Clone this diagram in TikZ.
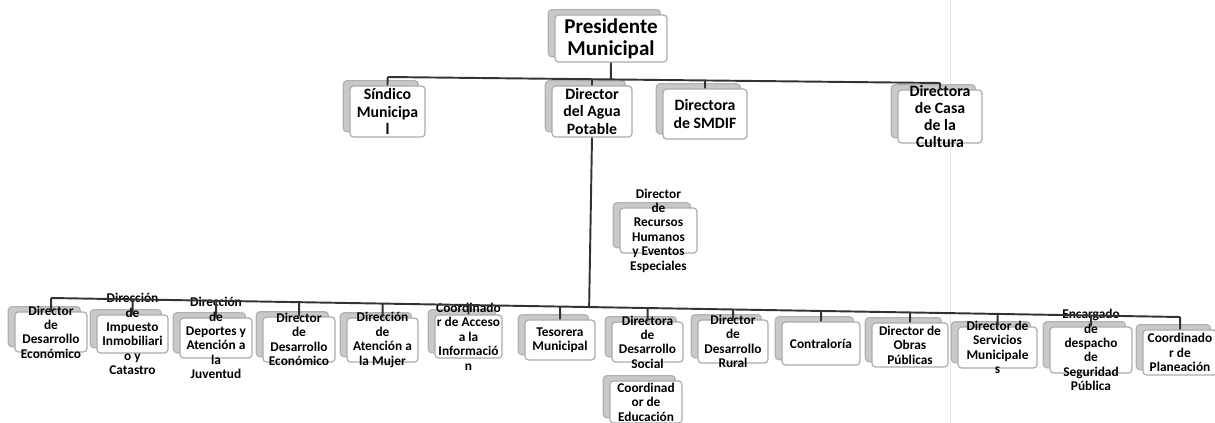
\documentclass[tikz,border=0pt]{standalone}
\usepackage{fontspec}
\setmainfont{Carlito}
\usetikzlibrary{shadows,calc}

\tikzstyle{card} = [rectangle, rounded corners=2pt, draw=gray!65, line width=0.7pt, fill=white, copy shadow={shadow xshift=-3.8pt, shadow yshift=3pt, fill=gray!42, draw=gray!60}]
\tikzstyle{lblbig} = [inner sep=0mm, align=center, font=\bfseries\fontsize{12}{12.6}\selectfont]
\tikzstyle{lblmid} = [inner sep=0mm, align=center, font=\bfseries\fontsize{9}{9.8}\selectfont]
\tikzstyle{lblsmall} = [inner sep=0mm, align=center, font=\bfseries\fontsize{7.6}{8.2}\selectfont]
\tikzstyle{link} = [draw=black!80, line width=1.1pt]

\begin{document}
\begin{tikzpicture}[x=0.02cm, y=-0.02cm]
		%\draw[help lines, step=100] (0,0) grid (1215,423);
		\useasboundingbox (0,0) rectangle (1215,423);
		\draw[gray!20] (950,0) -- (950,423);
		% first level
		\node[card, minimum width=112*0.02cm, minimum height=47*0.02cm] (pres) at (611,38.5) {};
		\node[lblbig] (pres-t) at (pres) {Presidente\\Municipal};
		\foreach \n/\x/\y/\w/\h/\lab in {sind/387.5/111.5/75/51/{Síndico\\Municipa\\l}, agua/592/111.5/80/51/{Director\\del Agua\\Potable}, smdif/705/114/84/50/{Directora\\de SMDIF}, casa/940/116.5/84/53/{Directora\\de Casa\\de la\\Cultura}} {
			\node[card, minimum width=\w*0.02cm, minimum height=\h*0.02cm] (\n) at (\x,\y) {};
			\node[lblmid] (\n-t) at (\n) {\lab};
		}
		\coordinate (tl) at (387.5,77);
		\coordinate (tr) at (940,83);
		\draw[link] (tl) -- (tr);
		\draw[link] (pres.south) -- ($(tl)!(pres.south)!(tr)$);
		\foreach \n in {sind,agua,smdif,casa}
		\draw[link] ($(tl)!(\n.north)!(tr)$) -- (\n.north);
		% staff
		\node[card, minimum width=77*0.02cm, minimum height=45*0.02cm] (rrhh) at (658.5,230.5) {};
		\node[lblsmall] (rrhh-t) at (rrhh) {Director\\de\\Recursos\\Humanos\\y Eventos\\Especiales};
		% second level
		\foreach \n/\x/\y/\w/\h/\lab in {
			d1/51/332/72/40/{Director\\de\\Desarrollo\\Económico},
			d2/132.5/334/71/38/{Dirección\\de\\Impuesto\\Inmobiliari\\o y\\Catastro},
			d3/216/338/72/40/{Dirección\\de\\Deportes y\\Atención a\\la\\Juventud},
			d4/299/339.5/72/45/{Director\\de\\Desarrollo\\Económico},
			d5/382.5/340/71/44/{Dirección\\de\\Atención a\\la Mujer},
			d6/468.5/336.5/67/43/{Coordinado\\r de Acceso\\a la\\Informació\\n},
			d7/560/340/70/40/{Tesorera\\Municipal},
			d8/647.5/342/71/40/{Directora\\de\\Desarrollo\\Social},
			d9/733/341.5/70/43/{Director\\de\\Desarrollo\\Rural},
			d10/821/343.5/78/43/{Contraloría},
			d11/910/345/76/44/{Director de\\Obras\\Públicas},
			d12/997.5/347.5/79/41/{Director de\\Servicios\\Municipale\\s},
			d13/1091/350/82/46/{Encargado\\de\\despacho\\de\\Seguridad\\Pública},
			d14/1180/352.5/74/45/{Coordinado\\r de\\Planeación},
			educ/646/402/72/42/{Coordinad\\or de\\Educación}} {
			\node[card, minimum width=\w*0.02cm, minimum height=\h*0.02cm] (\n) at (\x,\y) {};
			\node[lblsmall] (\n-t) at (\n) {\lab};
		}
		\coordinate (bl) at (51,298);
		\coordinate (br) at (1180,317);
		\draw[link] (bl) -- (br);
		\draw[link] (agua.south) -- ($(bl)!(agua.south)!(br)$);
		\foreach \i in {1,...,14}
		\draw[link] ($(bl)!(d\i.north)!(br)$) -- (d\i.north);
	\end{tikzpicture}
\end{document}
